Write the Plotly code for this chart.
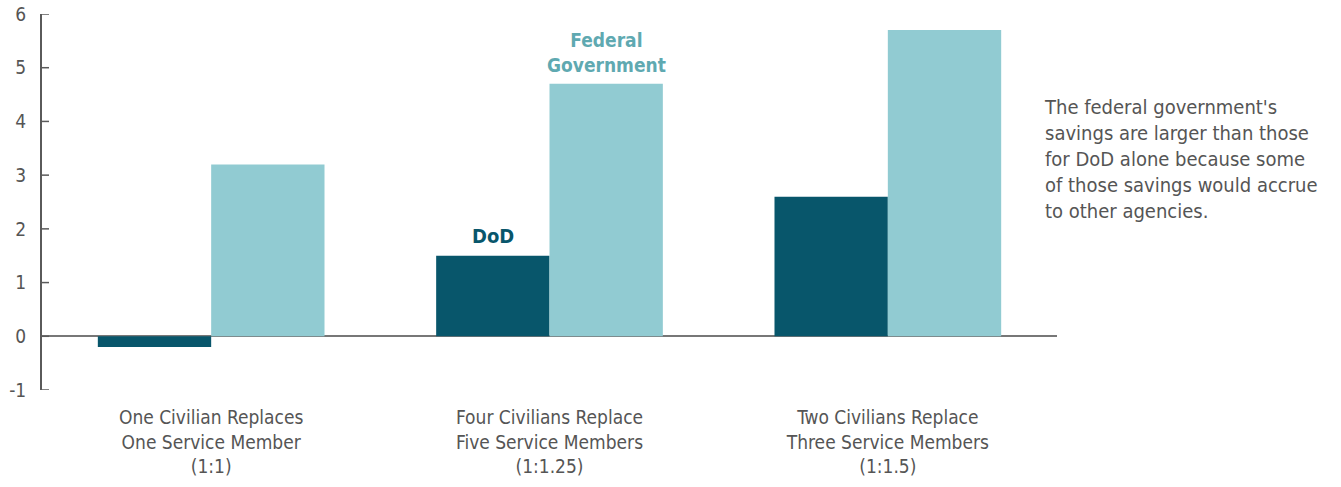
import plotly.graph_objects as go

categories = ["One Civilian Replaces<br>One Service Member<br>(1:1)",
              "Four Civilians Replace<br>Five Service Members<br>(1:1.25)",
              "Two Civilians Replace<br>Three Service Members<br>(1:1.5)"]
dod = [-0.2, 1.5, 2.6]
federal = [3.2, 4.7, 5.7]
y_ticks = [-1, 0, 1, 2, 3, 4, 5, 6]
y_tick_labels = ["-1", "0", "1", "2", "3", "4", "5", "6"]

DARK = "#08566B"
LIGHT = "#91CBD2"
LABEL_LIGHT = "#5FA9B1"
TXT = "#555555"
AXIS = "#5a5a5a"
FONT = "DejaVu Sans Condensed, Liberation Sans Narrow, Roboto Condensed, DejaVu Sans, sans-serif"
PAD = "\u2002\u200a"

W, H = 1341, 487
ML, MR, MT, MB = 42, 284, 14, 97
TICK_LEN = 7

x = list(range(len(categories)))
fig = go.Figure()
fig.add_trace(go.Bar(x=x, y=dod, name="DoD", marker_color=DARK, marker_line_width=0))
fig.add_trace(go.Bar(x=x, y=federal, name="Federal Government", marker_color=LIGHT, marker_line_width=0))

bargap = 0.33
off = (1 - bargap) / 4
fig.add_annotation(x=1 - off, y=dod[1], xref="x", yref="y", text="<b>DoD</b>",
                   showarrow=False, yanchor="bottom", yshift=6,
                   font=dict(family=FONT, size=20, color=DARK))
fig.add_annotation(x=1 + off, y=federal[1], xref="x", yref="y", text="<b>Federal<br>Government</b>",
                   showarrow=False, yanchor="bottom", yshift=6,
                   font=dict(family=FONT, size=19, color=LABEL_LIGHT))
fig.add_annotation(x=0.985, y=0.79, xref="paper", yref="paper",
                   text="The federal government's<br>savings are larger than those<br>for DoD alone because some<br>of those savings would accrue<br>to other agencies.",
                   showarrow=False, xanchor="left", yanchor="top", align="left",
                   font=dict(family=FONT, size=20, color=TXT))

# small tick marks pointing into the plot at each y tick value
plot_w = W - ML - MR
for v in y_ticks:
    fig.add_shape(type="line", xref="paper", yref="y", x0=0, x1=TICK_LEN / plot_w,
                  y0=v, y1=v, line=dict(color=AXIS, width=1.5), layer="above")

fig.update_layout(
    width=W, height=H,
    margin=dict(l=ML, r=MR, t=MT, b=MB),
    plot_bgcolor="white", paper_bgcolor="white",
    barmode="group", bargap=bargap, bargroupgap=0,
    showlegend=False,
    font=dict(family=FONT, size=19, color=TXT),
    xaxis=dict(tickvals=x, ticktext=categories, range=[-0.5, 2.5],
               showline=False, showgrid=False, ticks="", zeroline=False,
               ticklabelstandoff=14,
               tickfont=dict(family=FONT, size=19, color=TXT), automargin=False),
    yaxis=dict(range=[-1, 6], tickvals=y_ticks, ticktext=[t + PAD for t in y_tick_labels],
               showgrid=False,
               showline=True, linecolor=AXIS, linewidth=1.5,
               ticks="",
               zeroline=True, zerolinecolor="#777777", zerolinewidth=2,
               ticklabeloverflow="allow",
               tickfont=dict(family=FONT, size=19, color=TXT), automargin=False),
)
fig.write_html("out.html", config={"displayModeBar": False},
               post_script="document.body.style.margin='0';document.body.style.overflow='hidden';")
